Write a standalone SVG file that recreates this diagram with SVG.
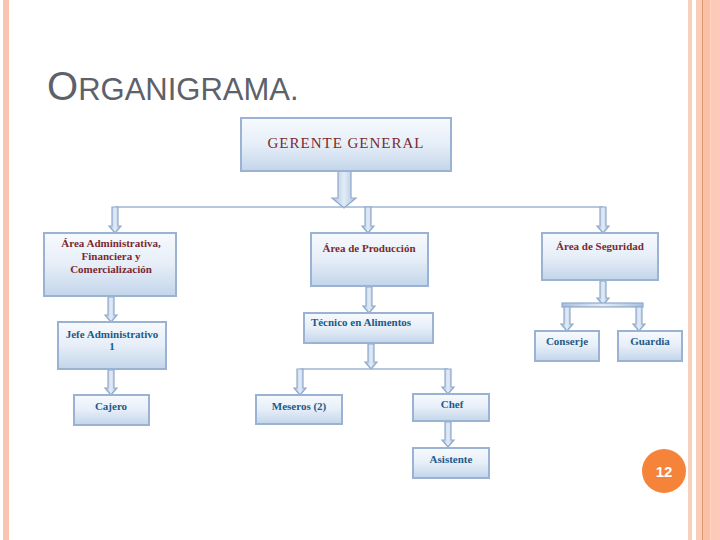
<svg xmlns="http://www.w3.org/2000/svg" width="720" height="540" viewBox="0 0 720 540">
<defs>
<linearGradient id="boxg" x1="0" y1="0" x2="0" y2="1">
<stop offset="0" stop-color="#f7fafd"/>
<stop offset="0.5" stop-color="#e6eef8"/>
<stop offset="1" stop-color="#c3d5ea"/>
</linearGradient>
<linearGradient id="arrg" x1="0" y1="0" x2="1" y2="0">
<stop offset="0" stop-color="#a9c0de"/>
<stop offset="0.5" stop-color="#e3ecf7"/>
<stop offset="1" stop-color="#a9c0de"/>
</linearGradient>
<style>
.box{fill:url(#boxg);stroke:#9bb3d2;stroke-width:2}
.arr{fill:url(#arrg);stroke:#8fa9cc;stroke-width:1.2;stroke-linejoin:miter}
.line{stroke:#9fb5d1;stroke-width:1.5;fill:none}
.red{font-family:"Liberation Serif",serif;font-weight:bold;font-size:11px;fill:#7a2a2e;text-anchor:middle}
.blue{font-family:"Liberation Serif",serif;font-weight:bold;font-size:11px;fill:#1d5a88;text-anchor:middle}
</style>
</defs>
<rect x="0" y="0" width="720" height="540" fill="#ffffff"/>
<!-- borders -->
<rect x="3" y="0" width="6" height="540" fill="#f8c5b0"/>
<rect x="688" y="0" width="4" height="540" fill="#f9cfbd"/>
<rect x="696" y="0" width="6" height="540" fill="#f9cdb9"/>
<rect x="702" y="0" width="1.5" height="540" fill="#e0956a"/>
<rect x="703.5" y="0" width="7" height="540" fill="#fbc1a5"/>
<rect x="710.5" y="0" width="9.5" height="540" fill="#fdc9b8"/>
<!-- title -->
<text x="47" y="100" font-family="'Liberation Sans',Arial,sans-serif" fill="#5d6169"><tspan font-size="40">O</tspan><tspan font-size="31">RGANIGRAMA.</tspan></text>

<g id="connectors">
<path class="arr" d="M338 171 V198 H332 L344 208 L356 198 H351 V171 Z"/>
<line class="line" x1="115" y1="207" x2="603" y2="207"/>
<path class="arr" d="M112 207 V226 H109 L115 233 L121 226 H118 V207 Z"/>
<path class="arr" d="M365 207 V226 H362 L368 233 L374 226 H371 V207 Z"/>
<path class="arr" d="M600 207 V226 H597 L603 233 L609 226 H606 V207 Z"/>
<path class="arr" d="M108 297 V315 H105 L111 322 L117 315 H114 V297 Z"/>
<path class="arr" d="M108 370 V388 H105 L111 395 L117 388 H114 V370 Z"/>
<path class="arr" d="M366 287 V306 H363 L369 313 L375 306 H372 V287 Z"/>
<path class="arr" d="M368 344 V362 H365 L371 369 L377 362 H374 V344 Z"/>
<line class="line" x1="300" y1="369" x2="448" y2="369"/>
<path class="arr" d="M297 369 V388 H294 L300 395 L306 388 H303 V369 Z"/>
<path class="arr" d="M445 369 V387 H442 L448 394 L454 387 H451 V369 Z"/>
<path class="arr" d="M445 422 V440 H442 L448 447 L454 440 H451 V422 Z"/>
<path class="arr" d="M600 281 V298 H597 L603 305 L609 298 H606 V281 Z"/>
<rect class="arr" x="562" y="303" width="81" height="4"/>
<path class="arr" d="M564 307 V324 H561 L567 331 L573 324 H570 V307 Z"/>
<path class="arr" d="M636 307 V324 H633 L639 331 L645 324 H642 V307 Z"/>
</g>

<g id="gerente">
<rect class="box" x="241" y="118" width="210" height="53"/>
<text x="346" y="148" font-family="'Liberation Serif',serif" font-size="15" letter-spacing="1" fill="#7a2a2e" text-anchor="middle">GERENTE GENERAL</text>
</g>
<g id="area-admin">
<rect class="box" x="44" y="233" width="132" height="63"/>
<text class="red" x="111" y="247">Área Administrativa,</text>
<text class="red" x="111" y="260">Financiera y</text>
<text class="red" x="111" y="273">Comercialización</text>
</g>
<g id="area-produccion">
<rect class="box" x="311" y="233" width="117" height="53"/>
<text class="red" x="369" y="252">Área de Producción</text>
</g>
<g id="area-seguridad">
<rect class="box" x="542" y="233" width="116" height="47"/>
<text class="red" x="600" y="250">Área de Seguridad</text>
</g>
<g id="jefe-admin">
<rect class="box" x="58" y="322" width="108" height="47"/>
<text class="blue" x="112" y="338">Jefe Administrativo</text>
<text class="blue" x="112" y="350">1</text>
</g>
<g id="cajero">
<rect class="box" x="74" y="395" width="75" height="30"/>
<text class="blue" x="111" y="410" font-size="12.5">Cajero</text>
</g>
<g id="tecnico">
<rect class="box" x="304" y="313" width="129" height="30"/>
<text class="blue" x="361" y="326">Técnico en Alimentos</text>
</g>
<g id="meseros">
<rect class="box" x="256" y="395" width="86" height="29"/>
<text class="blue" x="299" y="410" font-size="12.5">Meseros (2)</text>
</g>
<g id="chef">
<rect class="box" x="413" y="394" width="76" height="27"/>
<text class="blue" x="452" y="408">Chef</text>
</g>
<g id="asistente">
<rect class="box" x="413" y="448" width="76" height="30"/>
<text class="blue" x="451" y="463">Asistente</text>
</g>
<g id="conserje">
<rect class="box" x="535" y="331" width="64" height="30"/>
<text class="blue" x="567" y="345" font-size="10">Conserje</text>
</g>
<g id="guardia">
<rect class="box" x="618" y="331" width="64" height="30"/>
<text class="blue" x="650" y="345">Guardia</text>
</g>
<g id="page-number">
<circle cx="664" cy="471" r="22" fill="#f5833a"/>
<text x="664" y="477" font-family="'Liberation Sans',Arial,sans-serif" font-weight="bold" font-size="15" fill="#ffffff" text-anchor="middle">12</text>
</g>
</svg>
